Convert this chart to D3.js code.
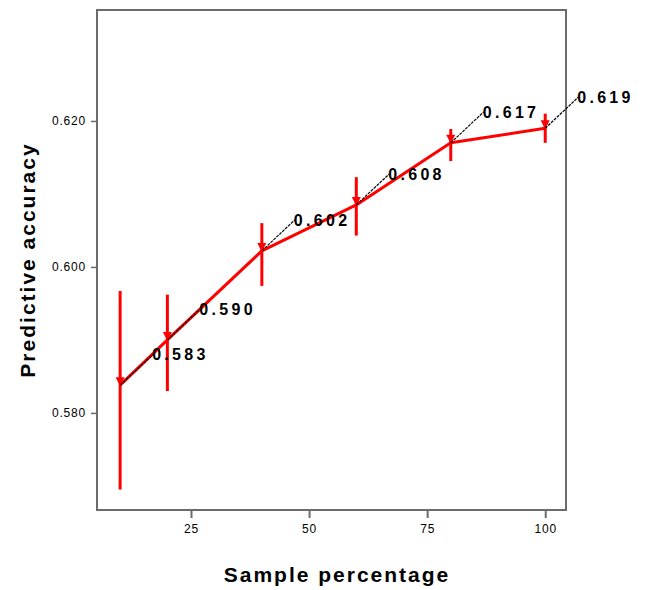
<!DOCTYPE html>
<html>
<head>
<meta charset="utf-8">
<script src="https://cdn.jsdelivr.net/npm/d3@7"></script>
<style>
  body { margin: 0; background: #fff; }
  svg { display: block; }
</style>
</head>
<body>
<svg id="chart" width="645" height="590"></svg>
<script>
// ---- data ----
const samplePct = [10, 20, 40, 60, 80, 100];
const meanAcc   = [0.5838, 0.5900, 0.6022, 0.6085, 0.6170, 0.6190];
const lowerCI   = [0.5695, 0.5830, 0.5974, 0.6043, 0.6145, 0.6170];
const upperCI   = [0.5967, 0.5962, 0.6060, 0.6123, 0.6189, 0.6210];
const valueLabels = ["0.583", "0.590", "0.602", "0.608", "0.617", "0.619"];
const xTicks = [25, 50, 75, 100];
const yTicks = [0.580, 0.600, 0.620];
const xTitle = "Sample percentage";
const yTitle = "Predictive accuracy";

const data = samplePct.map((p, i) => ({
  x: p, m: meanAcc[i], lo: lowerCI[i], hi: upperCI[i], label: valueLabels[i]
}));

// ---- layout ----
const svg = d3.select("#chart");
const L = 97, R = 566, T = 10, B = 510;
const x = d3.scaleLinear().domain([5.1, 104.4]).range([L, R]);
const y = d3.scaleLinear().domain([0.5667, 0.6352]).range([B, T]);
const FONT = "Arial, 'Liberation Sans', sans-serif";

// frame
svg.append("rect")
  .attr("x", L).attr("y", T).attr("width", R - L).attr("height", B - T)
  .attr("fill", "none").attr("stroke", "#6b6b6b").attr("stroke-width", 2);

// axes
const yAxis = svg.append("g").attr("transform", `translate(${L},0)`)
  .call(d3.axisLeft(y).tickValues(yTicks).tickFormat(d3.format(".3f")).tickSize(6).tickSizeOuter(0).tickPadding(5));
yAxis.select(".domain").remove();
yAxis.selectAll(".tick line").attr("stroke", "#6b6b6b").attr("stroke-width", 1.5);
yAxis.selectAll(".tick text").attr("font-family", FONT).attr("font-size", 12)
  .attr("letter-spacing", "0.8px").attr("fill", "#000");

const xAxis = svg.append("g").attr("transform", `translate(0,${B})`)
  .call(d3.axisBottom(x).tickValues(xTicks).tickFormat(d3.format("d")).tickSize(8).tickSizeOuter(0).tickPadding(6));
xAxis.select(".domain").remove();
xAxis.selectAll(".tick line").attr("stroke", "#6b6b6b").attr("stroke-width", 2);
xAxis.selectAll(".tick text").attr("font-family", FONT).attr("font-size", 12)
  .attr("letter-spacing", "0.8px").attr("fill", "#000");

// error bars
svg.append("g").selectAll("line").data(data).join("line")
  .attr("x1", d => x(d.x)).attr("x2", d => x(d.x))
  .attr("y1", d => y(d.lo)).attr("y2", d => y(d.hi))
  .attr("stroke", "#ff0000").attr("stroke-width", 3);

// red mean line
svg.append("path").datum(data)
  .attr("d", d3.line().x(d => x(d.x)).y(d => y(d.m)))
  .attr("fill", "none").attr("stroke", "#ff0000").attr("stroke-width", 3)
  .attr("stroke-linejoin", "round");

// markers
svg.append("g").selectAll("path").data(data).join("path")
  .attr("d", d => {
    const cx = x(d.x), cy = y(d.m);
    return `M${cx - 4.5},${cy - 8}L${cx + 4.5},${cy - 8}L${cx},${cy + 1}Z`;
  })
  .attr("fill", "#ff0000");

// leader lines
svg.append("g").selectAll("line").data(data).join("line")
  .attr("x1", d => x(d.x)).attr("y1", d => y(d.m))
  .attr("x2", d => x(d.x) + 33).attr("y2", d => y(d.m) - 31)
  .attr("stroke", "#000").attr("stroke-width", 1.2).attr("stroke-dasharray", "3,1");

// value labels
svg.append("g").selectAll("text").data(data).join("text")
  .attr("x", d => x(d.x) + 32).attr("y", d => y(d.m) - 25)
  .attr("font-family", FONT).attr("font-size", 16).attr("font-weight", "bold")
  .attr("letter-spacing", "3.3px").attr("fill", "#000")
  .text(d => d.label);

// axis titles
svg.append("text")
  .attr("x", 337).attr("y", 582).attr("text-anchor", "middle")
  .attr("font-family", FONT).attr("font-size", 21).attr("font-weight", "bold")
  .attr("letter-spacing", "2px").attr("fill", "#000")
  .text(xTitle);

svg.append("text")
  .attr("transform", "translate(35,260) rotate(-90)").attr("text-anchor", "middle")
  .attr("font-family", FONT).attr("font-size", 21).attr("font-weight", "bold")
  .attr("letter-spacing", "2px").attr("fill", "#000")
  .text(yTitle);
</script>
</body>
</html>
